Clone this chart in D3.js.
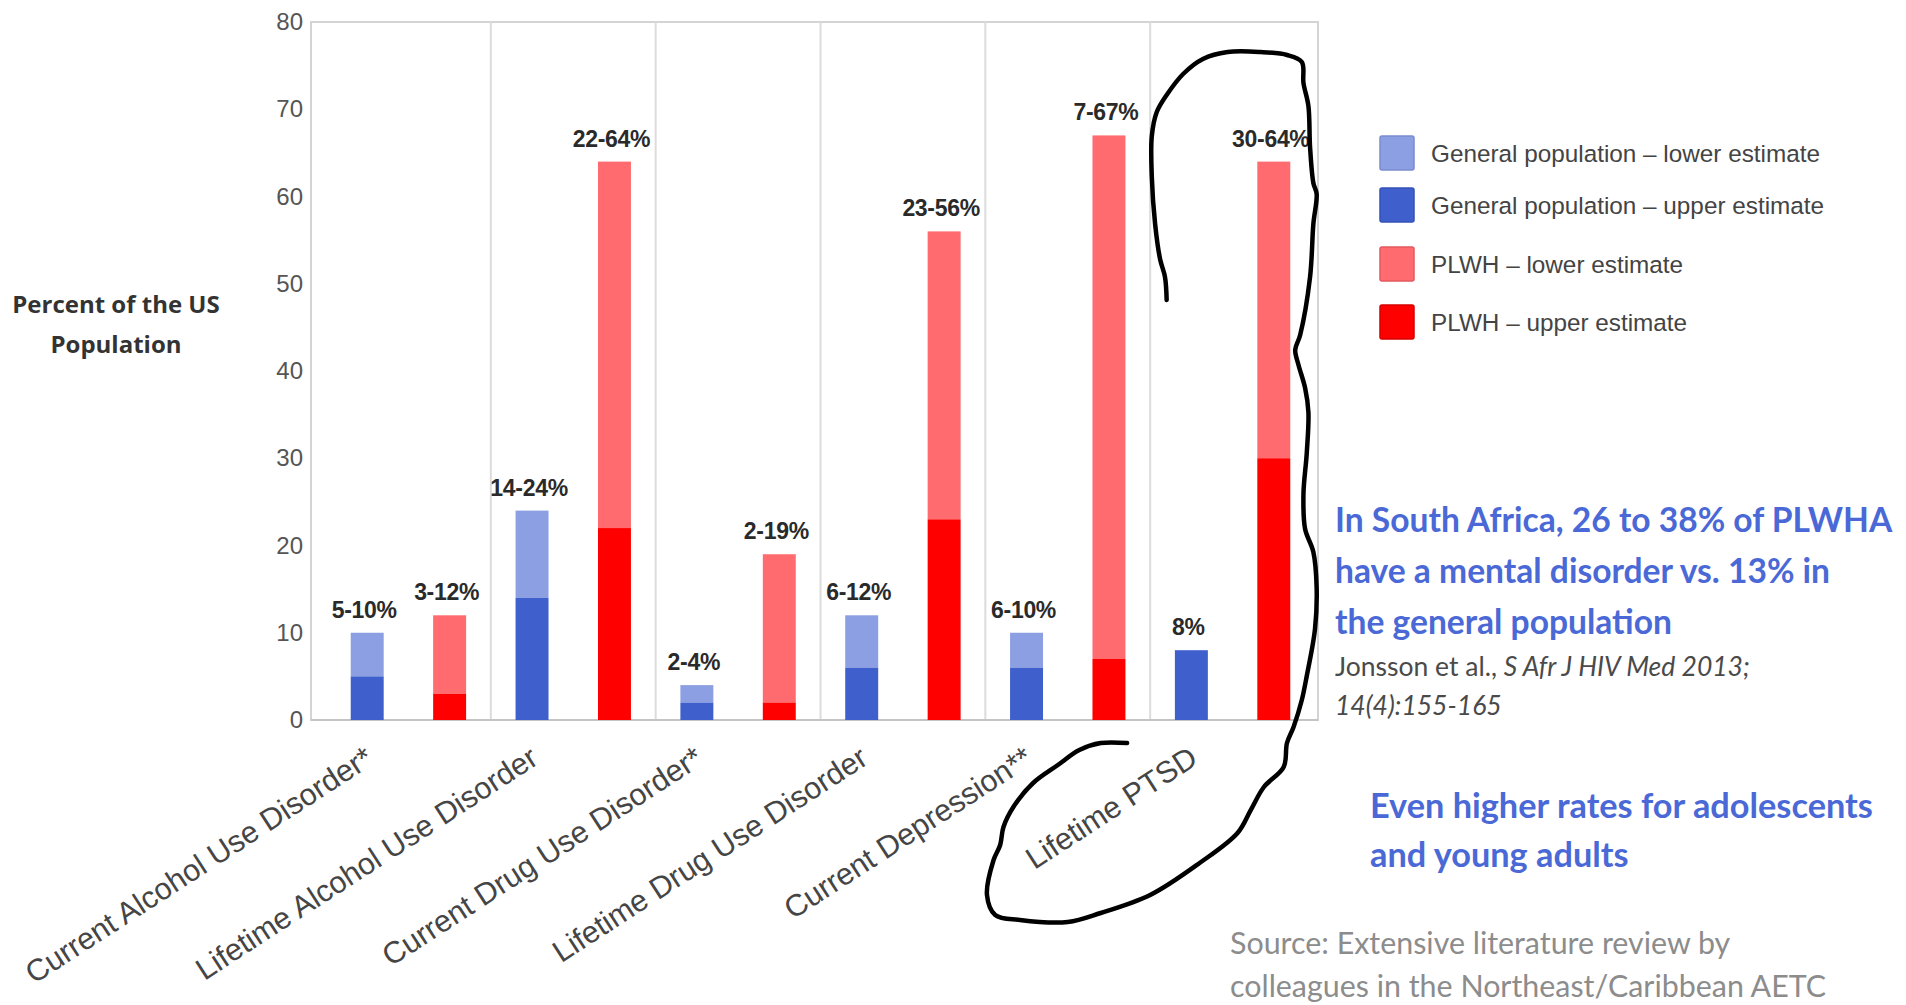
<!DOCTYPE html>
<html>
<head>
<meta charset="utf-8">
<script src="https://cdn.jsdelivr.net/npm/d3@7"></script>
<style>
  html, body { margin: 0; padding: 0; background: #ffffff; }
  svg { display: block; }
</style>
</head>
<body>
<svg id="chart" width="1906" height="1005"></svg>
<script>
// ---- data ----
const categories = [
  "Current Alcohol Use Disorder*",
  "Lifetime Alcohol Use Disorder",
  "Current Drug Use Disorder*",
  "Lifetime Drug Use Disorder",
  "Current Depression**",
  "Lifetime PTSD"
];
const generalLower = [5, 14, 2, 6, 6, 8];
const generalUpper = [10, 24, 4, 12, 10, 8];
const plwhLower = [3, 22, 2, 23, 7, 30];
const plwhUpper = [12, 64, 19, 56, 67, 64];
const yTicks = [0, 10, 20, 30, 40, 50, 60, 70, 80];
const groups = ["general", "plwh"];
const legendLabels = [
  "General population \u2013 lower estimate",
  "General population \u2013 upper estimate",
  "PLWH \u2013 lower estimate",
  "PLWH \u2013 upper estimate"
];
const yTitleLines = ["Percent of the US", "Population"];
const noteLines = [
  "In South Africa, 26 to 38% of PLWHA",
  "have a mental disorder vs. 13% in",
  "the general population"
];
const citeLines = [
  [{ t: "Jonsson et al., ", i: false }, { t: "S Afr J HIV Med 2013;", i: true }],
  [{ t: "14(4):155-165", i: true }]
];
const youthLines = ["Even higher rates for adolescents", "and young adults"];
const sourceLines = [
  "Source: Extensive literature review by",
  "colleagues in the Northeast/Caribbean AETC"
];
// hand-drawn highlight loop around the Lifetime PTSD group, in (category index, percent) units
const loopPoints = [
  [5.10, 48.14], [5.09, 50.77], [5.06, 52.84], [5.03, 56.85], [5.01, 62.23], [5.01, 66.93],
  [5.04, 69.68], [5.10, 71.63], [5.20, 74.04], [5.32, 75.76], [5.47, 76.56], [5.67, 76.56],
  [5.83, 76.22], [5.92, 75.42], [5.93, 73.01], [5.96, 70.37], [5.97, 65.67], [5.99, 61.55],
  [6.01, 60.29], [5.99, 56.85], [5.97, 50.77], [5.91, 44.13], [5.88, 42.41], [5.90, 40.69],
  [5.94, 38.05], [5.96, 35.30], [5.95, 30.60], [5.93, 25.90], [5.94, 21.89], [5.99, 19.26],
  [6.01, 15.13], [6.00, 10.43], [5.95, 5.04], [5.92, 2.29], [5.87, -0.80], [5.83, -2.64],
  [5.81, -5.39], [5.69, -7.68], [5.61, -10.32], [5.53, -12.95], [5.30, -16.39], [5.00, -20.06],
  [4.70, -22.12], [4.50, -23.15], [4.21, -22.92], [4.06, -22.35], [4.01, -20.06], [4.05, -16.05],
  [4.09, -14.33], [4.11, -12.26], [4.17, -9.97], [4.29, -7.22], [4.44, -5.16], [4.57, -3.44],
  [4.70, -2.64], [4.86, -2.64]
];

// ---- styles ----
const colors = {
  generalLight: "#8c9fe2",
  generalDark: "#3f5fcd",
  plwhLight: "#ff6b6e",
  plwhDark: "#ff0000"
};
const legendColors = [colors.generalLight, colors.generalDark, colors.plwhLight, colors.plwhDark];
const legendStroke = ["#7a8cd0", "#3552b8", "#e35a5e", "#d80000"];
const noteBlue = "#4a69d6";

// ---- layout ----
const frame = { left: 311, right: 1318, top: 22, bottom: 720 };
const svg = d3.select("#chart");

const x0 = d3.scaleBand().domain(categories).range([326, 1315]).padding(0);
const x1 = d3.scaleBand().domain(groups).range([0, x0.bandwidth()])
  .paddingInner(0.6).paddingOuter(0.3);
const xIdx = d3.scaleLinear().domain([0, categories.length]).range(x0.range());
const y = d3.scaleLinear().domain([0, 80]).range([frame.bottom, frame.top]);

// plot frame
svg.append("rect")
  .attr("x", frame.left).attr("y", frame.top)
  .attr("width", frame.right - frame.left).attr("height", frame.bottom - frame.top)
  .attr("fill", "none").attr("stroke", "#d4d4d4").attr("stroke-width", 2);

// category separators
svg.append("g").selectAll("line")
  .data(categories.slice(1))
  .join("line")
  .attr("x1", d => x0(d)).attr("x2", d => x0(d))
  .attr("y1", frame.top).attr("y2", frame.bottom)
  .attr("stroke", "#dcdcdc").attr("stroke-width", 2);

// bottom axis line
svg.append("line")
  .attr("x1", frame.left).attr("x2", frame.right)
  .attr("y1", frame.bottom).attr("y2", frame.bottom)
  .attr("stroke", "#c4c4c4").attr("stroke-width", 2);

// y axis
const yAxis = svg.append("g")
  .attr("transform", `translate(${frame.left},0)`)
  .call(d3.axisLeft(y).tickValues(yTicks).tickSize(0).tickPadding(8));
yAxis.select(".domain").remove();
yAxis.selectAll("text")
  .attr("font-family", "'Liberation Sans', Arial, sans-serif")
  .attr("font-size", 24)
  .attr("fill", "#555");

// y title
svg.append("text")
  .attr("font-family", "'Open Sans', sans-serif")
  .attr("font-weight", 700)
  .attr("font-size", 24)
  .attr("fill", "#333")
  .attr("text-anchor", "middle")
  .selectAll("tspan")
  .data(yTitleLines)
  .join("tspan")
  .attr("x", 116)
  .attr("y", (d, i) => 313 + i * 40)
  .text(d => d);

// bar rows
const rows = categories.map((c, i) => ({
  category: c,
  bars: [
    { group: "general", lower: generalLower[i], upper: generalUpper[i],
      dark: colors.generalDark, light: colors.generalLight },
    { group: "plwh", lower: plwhLower[i], upper: plwhUpper[i],
      dark: colors.plwhDark, light: colors.plwhLight }
  ]
}));

const cat = svg.append("g").selectAll("g")
  .data(rows)
  .join("g")
  .attr("transform", d => `translate(${x0(d.category)},0)`);

const bar = cat.selectAll("g")
  .data(d => d.bars)
  .join("g");

// upper estimate segment (stacked above lower)
bar.append("rect")
  .attr("x", d => x1(d.group))
  .attr("width", x1.bandwidth())
  .attr("y", d => y(d.upper))
  .attr("height", d => y(d.lower) - y(d.upper))
  .attr("fill", d => d.light);

// lower estimate segment
bar.append("rect")
  .attr("x", d => x1(d.group))
  .attr("width", x1.bandwidth())
  .attr("y", d => y(d.lower))
  .attr("height", d => y(0) - y(d.lower))
  .attr("fill", d => d.dark);

// value labels
bar.append("text")
  .attr("x", d => x1(d.group) + x1.bandwidth() / 2 - 3)
  .attr("y", d => y(d.upper) - 15)
  .attr("text-anchor", "middle")
  .attr("font-family", "'Liberation Sans', Arial, sans-serif")
  .attr("font-weight", 700)
  .attr("font-size", 23)
  .attr("letter-spacing", -0.3)
  .attr("fill", "#2a2a2a")
  .text(d => d.lower === d.upper ? `${d.upper}%` : `${d.lower}-${d.upper}%`);

// rotated category labels
svg.append("g").selectAll("text")
  .data(categories)
  .join("text")
  .attr("transform", d => {
    const ax = x0(d) + x1("general") + x1.bandwidth() / 2 + 8;
    const ay = frame.bottom + 43;
    return `translate(${ax},${ay}) rotate(-33)`;
  })
  .attr("text-anchor", "end")
  .attr("font-family", "'Liberation Sans', Arial, sans-serif")
  .attr("font-size", 30.5)
  .attr("fill", "#454545")
  .text(d => d);

// legend
const legend = svg.append("g").attr("transform", "translate(1380,0)");
const legendY = [153, 205, 264, 322];
const li = legend.selectAll("g")
  .data(legendLabels)
  .join("g")
  .attr("transform", (d, i) => `translate(0,${legendY[i]})`);
li.append("rect")
  .attr("x", 0).attr("y", -17)
  .attr("width", 34).attr("height", 34)
  .attr("rx", 2)
  .attr("fill", (d, i) => legendColors[i])
  .attr("stroke", (d, i) => legendStroke[i])
  .attr("stroke-width", 1.5);
li.append("text")
  .attr("x", 51).attr("y", 8.5)
  .attr("font-family", "'Liberation Sans', Arial, sans-serif")
  .attr("font-size", 24.3)
  .attr("fill", "#444")
  .text(d => d);

// South Africa note
svg.append("g").selectAll("text")
  .data(noteLines)
  .join("text")
  .attr("x", 1335)
  .attr("y", (d, i) => 532 + i * 51)
  .attr("font-family", "Lato, sans-serif")
  .attr("font-weight", 700)
  .attr("font-size", 33.6)
  .attr("fill", noteBlue)
  .text(d => d);

// citation
svg.append("g").selectAll("text")
  .data(citeLines)
  .join("text")
  .attr("x", 1335)
  .attr("y", (d, i) => 676 + i * 39)
  .attr("font-family", "Lato, sans-serif")
  .attr("font-size", 26.5)
  .attr("fill", "#4a4a4a")
  .selectAll("tspan")
  .data(d => d)
  .join("tspan")
  .attr("font-style", d => d.i ? "italic" : "normal")
  .text(d => d.t);

// adolescents note
svg.append("g").selectAll("text")
  .data(youthLines)
  .join("text")
  .attr("x", 1370)
  .attr("y", (d, i) => 818 + i * 49)
  .attr("font-family", "Lato, sans-serif")
  .attr("font-weight", 700)
  .attr("font-size", 34.3)
  .attr("fill", noteBlue)
  .text(d => d);

// source
svg.append("g").selectAll("text")
  .data(sourceLines)
  .join("text")
  .attr("x", 1230)
  .attr("y", (d, i) => 954 + i * 43)
  .attr("font-family", "Lato, sans-serif")
  .attr("font-size", 30.4)
  .attr("fill", "#8c8c8c")
  .text(d => d);

// highlight loop
const loop = d3.line()
  .x(d => xIdx(d[0]))
  .y(d => y(d[1]))
  .curve(d3.curveCatmullRom.alpha(0.5));
svg.append("path")
  .attr("d", loop(loopPoints))
  .attr("fill", "none")
  .attr("stroke", "#000")
  .attr("stroke-width", 4.5)
  .attr("stroke-linecap", "round")
  .attr("stroke-linejoin", "round");
</script>
</body>
</html>
